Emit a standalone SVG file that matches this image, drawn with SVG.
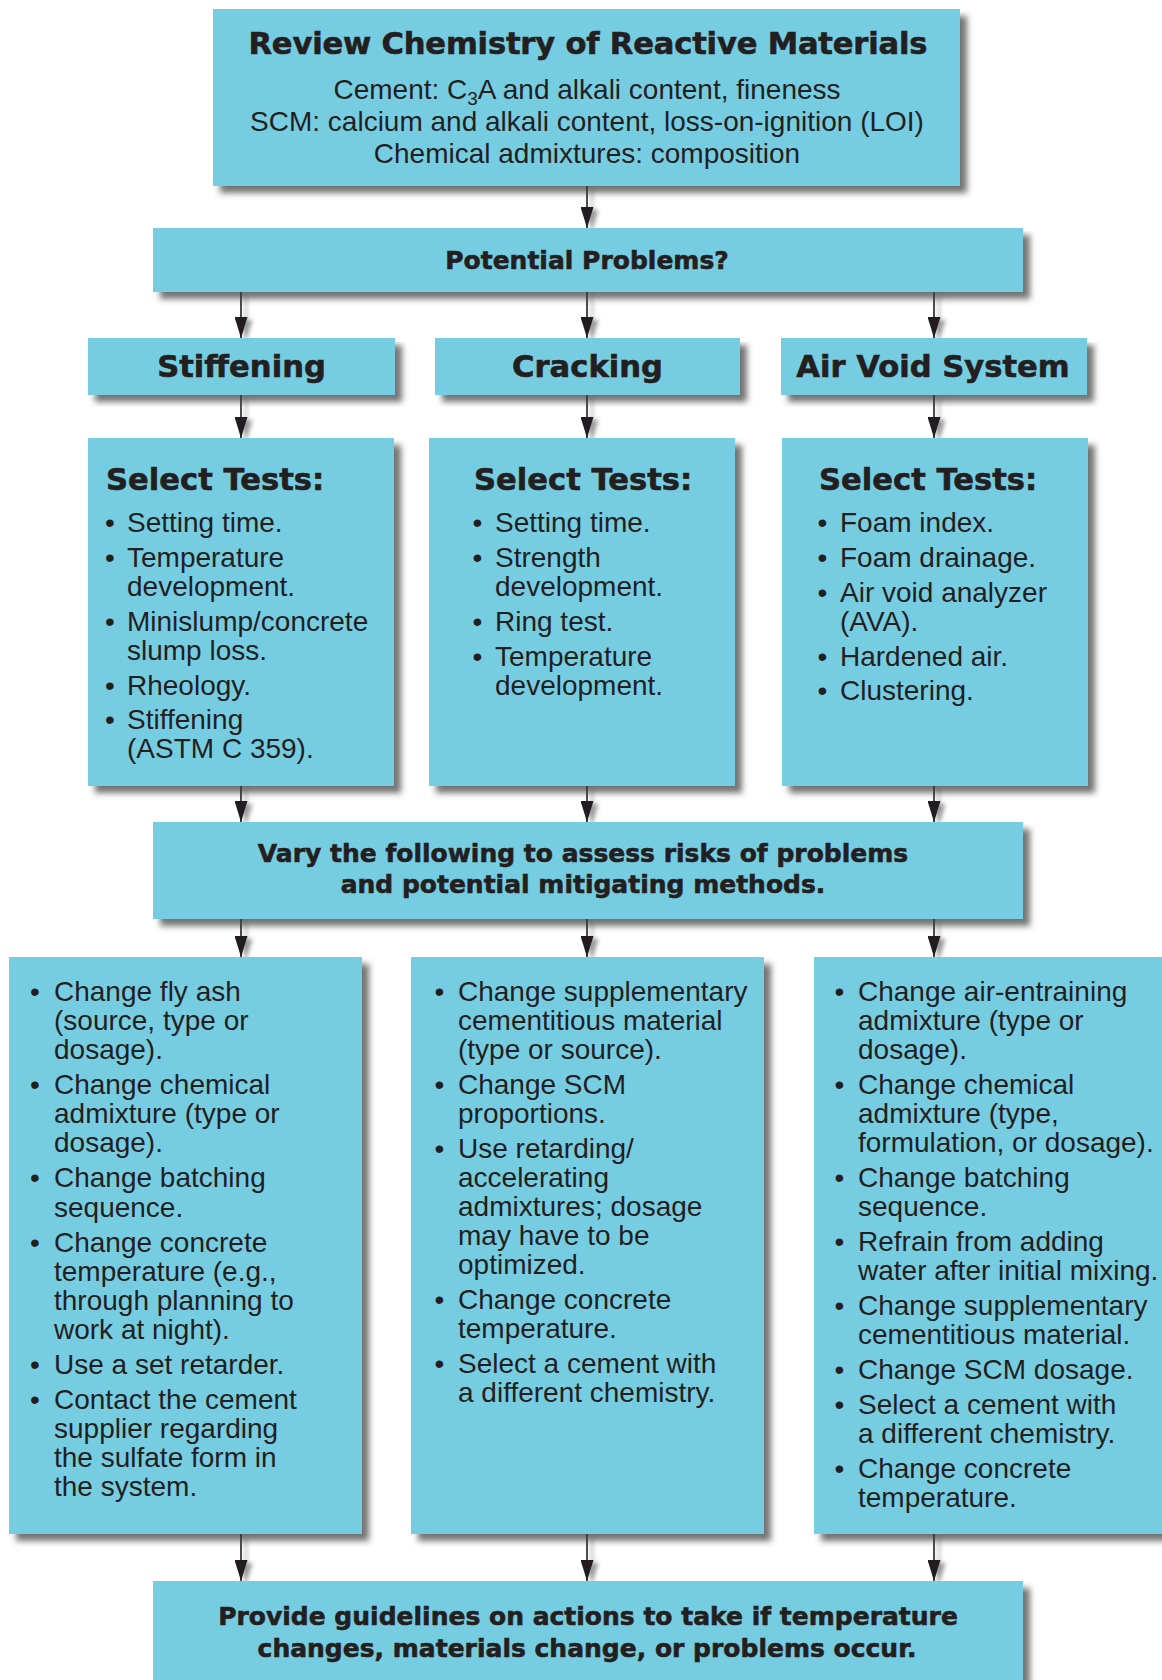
<svg xmlns="http://www.w3.org/2000/svg" width="1162" height="1680" viewBox="0 0 1162 1680">
  <defs>
    <style>
      .box { fill: #76cde2; filter: url(#shadow); }
      .head { font-family: "DejaVu Sans", "Liberation Sans", sans-serif; font-weight: bold; fill: #231f20; stroke: #231f20; stroke-width: 0.6; }
      .h30 { font-size: 30.6px; }
      .h25 { font-size: 25px; }
      .body { font-family: "Liberation Sans", Arial, sans-serif; font-size: 28px; fill: #231f20; }
      .mid { text-anchor: middle; }
      .wire { stroke: #231f20; stroke-width: 1.6; fill: none; marker-end: url(#arrow); }
    </style>
    <filter id="shadow" x="-5%" y="-5%" width="115%" height="125%">
      <feGaussianBlur in="SourceAlpha" stdDeviation="3"/>
      <feOffset dx="7" dy="7" result="blur"/>
      <feFlood flood-color="#3c3c3c" flood-opacity="0.72"/>
      <feComposite in2="blur" operator="in"/>
      <feMerge>
        <feMergeNode/>
        <feMergeNode in="SourceGraphic"/>
      </feMerge>
    </filter>
    <filter id="wireShadow" x="-50%" y="-20%" width="300%" height="150%">
      <feGaussianBlur in="SourceAlpha" stdDeviation="2"/>
      <feOffset dx="5" dy="3" result="blur"/>
      <feFlood flood-color="#555" flood-opacity="0.6"/>
      <feComposite in2="blur" operator="in"/>
      <feMerge>
        <feMergeNode/>
        <feMergeNode in="SourceGraphic"/>
      </feMerge>
    </filter>
    <marker id="arrow" markerUnits="userSpaceOnUse" markerWidth="21" markerHeight="13" refX="21" refY="6.5" orient="auto" viewBox="0 0 21 13">
      <path d="M0,0 L21,6.5 L0,13 Z" fill="#231f20"/>
    </marker>
  </defs>

  <rect width="1162" height="1680" fill="#ffffff"/>

  <!-- connectors -->
  <g id="connectors" filter="url(#wireShadow)">
    <line class="wire" x1="587" y1="186" x2="587" y2="228"/>
    <line class="wire" x1="241" y1="292" x2="241" y2="338"/>
    <line class="wire" x1="587" y1="292" x2="587" y2="338"/>
    <line class="wire" x1="934" y1="292" x2="934" y2="338"/>
    <line class="wire" x1="241" y1="395" x2="241" y2="438"/>
    <line class="wire" x1="587" y1="395" x2="587" y2="438"/>
    <line class="wire" x1="934" y1="395" x2="934" y2="438"/>
    <line class="wire" x1="241" y1="786" x2="241" y2="822"/>
    <line class="wire" x1="587" y1="786" x2="587" y2="822"/>
    <line class="wire" x1="934" y1="786" x2="934" y2="822"/>
    <line class="wire" x1="241" y1="919" x2="241" y2="957"/>
    <line class="wire" x1="587" y1="919" x2="587" y2="957"/>
    <line class="wire" x1="934" y1="919" x2="934" y2="957"/>
    <line class="wire" x1="241" y1="1534" x2="241" y2="1581"/>
    <line class="wire" x1="587" y1="1534" x2="587" y2="1581"/>
    <line class="wire" x1="934" y1="1534" x2="934" y2="1581"/>
  </g>

  <!-- review chemistry -->
  <g id="review">
    <rect class="box" x="213" y="9" width="747" height="177"/>
    <text class="head h30 mid" x="588" y="54" textLength="679">Review Chemistry of Reactive Materials</text>
    <text class="body mid" x="587" y="99">Cement: C<tspan font-size="19" baseline-shift="-6">3</tspan>A and alkali content, fineness</text>
    <text class="body mid" x="587" y="131">SCM: calcium and alkali content, loss-on-ignition (LOI)</text>
    <text class="body mid" x="587" y="163">Chemical admixtures: composition</text>
  </g>

  <!-- potential problems -->
  <g id="problems">
    <rect class="box" x="153" y="228" width="870" height="64"/>
    <text class="head h25 mid" x="587" y="269">Potential Problems?</text>
  </g>

  <!-- problem categories -->
  <g id="stiffening">
    <rect class="box" x="88" y="338" width="307" height="57"/>
    <text class="head h30 mid" x="241.5" y="377">Stiffening</text>
  </g>
  <g id="cracking">
    <rect class="box" x="435" y="338" width="305" height="57"/>
    <text class="head h30 mid" x="587.5" y="377">Cracking</text>
  </g>
  <g id="air-void">
    <rect class="box" x="781" y="338" width="306" height="57"/>
    <text class="head h30 mid" x="933" y="377">Air Void System</text>
  </g>

  <!-- test selections -->
  <g id="tests-stiffening">
    <rect class="box" x="88" y="438" width="306" height="348"/>
    <text class="head h30" x="106" y="490">Select Tests:</text>
    <g class="body">
      <text class="mid" x="110" y="532">•</text>
      <text x="127" y="532">Setting time.</text>
      <text class="mid" x="110" y="567">•</text>
      <text x="127" y="567">Temperature</text>
      <text x="127" y="596">development.</text>
      <text class="mid" x="110" y="631">•</text>
      <text x="127" y="631">Minislump/concrete</text>
      <text x="127" y="660">slump loss.</text>
      <text class="mid" x="110" y="695">•</text>
      <text x="127" y="695">Rheology.</text>
      <text class="mid" x="110" y="729">•</text>
      <text x="127" y="729">Stiffening</text>
      <text x="127" y="758">(ASTM C 359).</text>
    </g>
  </g>
  <g id="tests-cracking">
    <rect class="box" x="429" y="438" width="306" height="348"/>
    <text class="head h30" x="474" y="490">Select Tests:</text>
    <g class="body">
      <text class="mid" x="477.5" y="532">•</text>
      <text x="495" y="532">Setting time.</text>
      <text class="mid" x="477.5" y="567">•</text>
      <text x="495" y="567">Strength</text>
      <text x="495" y="596">development.</text>
      <text class="mid" x="477.5" y="631">•</text>
      <text x="495" y="631">Ring test.</text>
      <text class="mid" x="477.5" y="666">•</text>
      <text x="495" y="666">Temperature</text>
      <text x="495" y="695">development.</text>
    </g>
  </g>
  <g id="tests-air">
    <rect class="box" x="782" y="438" width="306" height="348"/>
    <text class="head h30" x="819" y="490">Select Tests:</text>
    <g class="body">
      <text class="mid" x="822.5" y="532">•</text>
      <text x="840" y="532">Foam index.</text>
      <text class="mid" x="822.5" y="567">•</text>
      <text x="840" y="567">Foam drainage.</text>
      <text class="mid" x="822.5" y="602">•</text>
      <text x="840" y="602">Air void analyzer</text>
      <text x="840" y="631">(AVA).</text>
      <text class="mid" x="822.5" y="666">•</text>
      <text x="840" y="666">Hardened air.</text>
      <text class="mid" x="822.5" y="700">•</text>
      <text x="840" y="700">Clustering.</text>
    </g>
  </g>

  <!-- assessment step -->
  <g id="vary">
    <rect class="box" x="153" y="822" width="870" height="97"/>
    <text class="head h25 mid" x="583" y="862">Vary the following to assess risks of problems</text>
    <text class="head h25 mid" x="583" y="893">and potential mitigating methods.</text>
  </g>

  <!-- mitigation options -->
  <g id="mitigate-stiffening">
    <rect class="box" x="9" y="957" width="353" height="577"/>
    <g class="body">
      <text class="mid" x="35" y="1001">•</text>
      <text x="54" y="1001">Change fly ash</text>
      <text x="54" y="1030">(source, type or</text>
      <text x="54" y="1059">dosage).</text>
      <text class="mid" x="35" y="1094">•</text>
      <text x="54" y="1094">Change chemical</text>
      <text x="54" y="1123">admixture (type or</text>
      <text x="54" y="1152">dosage).</text>
      <text class="mid" x="35" y="1187">•</text>
      <text x="54" y="1187">Change batching</text>
      <text x="54" y="1217">sequence.</text>
      <text class="mid" x="35" y="1252">•</text>
      <text x="54" y="1252">Change concrete</text>
      <text x="54" y="1281">temperature (e.g.,</text>
      <text x="54" y="1310">through planning to</text>
      <text x="54" y="1339">work at night).</text>
      <text class="mid" x="35" y="1374">•</text>
      <text x="54" y="1374">Use a set retarder.</text>
      <text class="mid" x="35" y="1409">•</text>
      <text x="54" y="1409">Contact the cement</text>
      <text x="54" y="1438">supplier regarding</text>
      <text x="54" y="1467">the sulfate form in</text>
      <text x="54" y="1496">the system.</text>
    </g>
  </g>
  <g id="mitigate-cracking">
    <rect class="box" x="411" y="957" width="353" height="577"/>
    <g class="body">
      <text class="mid" x="439.5" y="1001">•</text>
      <text x="458" y="1001">Change supplementary</text>
      <text x="458" y="1030">cementitious material</text>
      <text x="458" y="1059">(type or source).</text>
      <text class="mid" x="439.5" y="1094">•</text>
      <text x="458" y="1094">Change SCM</text>
      <text x="458" y="1123">proportions.</text>
      <text class="mid" x="439.5" y="1158">•</text>
      <text x="458" y="1158">Use retarding/</text>
      <text x="458" y="1187">accelerating</text>
      <text x="458" y="1216">admixtures; dosage</text>
      <text x="458" y="1245">may have to be</text>
      <text x="458" y="1274">optimized.</text>
      <text class="mid" x="439.5" y="1309">•</text>
      <text x="458" y="1309">Change concrete</text>
      <text x="458" y="1338">temperature.</text>
      <text class="mid" x="439.5" y="1373">•</text>
      <text x="458" y="1373">Select a cement with</text>
      <text x="458" y="1402">a different chemistry.</text>
    </g>
  </g>
  <g id="mitigate-air">
    <rect class="box" x="814" y="957" width="353" height="577"/>
    <g class="body">
      <text class="mid" x="839.5" y="1001">•</text>
      <text x="858" y="1001">Change air-entraining</text>
      <text x="858" y="1030">admixture (type or</text>
      <text x="858" y="1059">dosage).</text>
      <text class="mid" x="839.5" y="1094">•</text>
      <text x="858" y="1094">Change chemical</text>
      <text x="858" y="1123">admixture (type,</text>
      <text x="858" y="1152">formulation, or dosage).</text>
      <text class="mid" x="839.5" y="1187">•</text>
      <text x="858" y="1187">Change batching</text>
      <text x="858" y="1216">sequence.</text>
      <text class="mid" x="839.5" y="1251">•</text>
      <text x="858" y="1251">Refrain from adding</text>
      <text x="858" y="1280">water after initial mixing.</text>
      <text class="mid" x="839.5" y="1315">•</text>
      <text x="858" y="1315">Change supplementary</text>
      <text x="858" y="1344">cementitious material.</text>
      <text class="mid" x="839.5" y="1379">•</text>
      <text x="858" y="1379">Change SCM dosage.</text>
      <text class="mid" x="839.5" y="1414">•</text>
      <text x="858" y="1414">Select a cement with</text>
      <text x="858" y="1443">a different chemistry.</text>
      <text class="mid" x="839.5" y="1478">•</text>
      <text x="858" y="1478">Change concrete</text>
      <text x="858" y="1507">temperature.</text>
    </g>
  </g>

  <!-- guidelines -->
  <g id="guidelines">
    <rect class="box" x="153" y="1581" width="870" height="110"/>
    <text class="head h25 mid" x="588" y="1625">Provide guidelines on actions to take if temperature</text>
    <text class="head h25 mid" x="587" y="1657">changes, materials change, or problems occur.</text>
  </g>
</svg>
